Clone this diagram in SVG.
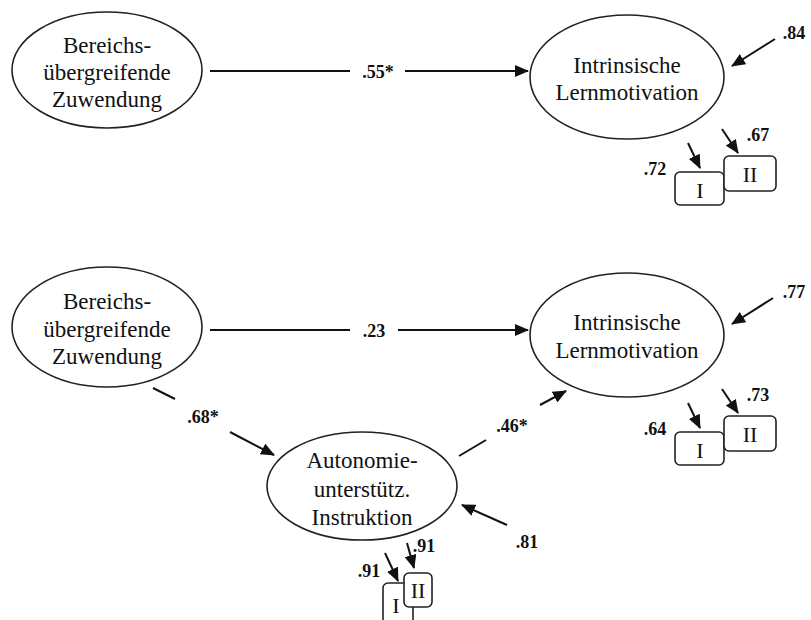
<svg xmlns="http://www.w3.org/2000/svg" width="811" height="620" viewBox="0 0 811 620">
<defs>
<marker id="ah" markerWidth="14" markerHeight="12" refX="13" refY="6" orient="auto" markerUnits="userSpaceOnUse">
<path d="M0,0 L14,6 L0,12 Z" fill="#111"/>
</marker>
<style>
.node{fill:#fff;stroke:#222;stroke-width:1.6}
.box{fill:#fff;stroke:#222;stroke-width:1.6}
.t{font-family:"Liberation Serif","Times New Roman",serif;font-size:23px;fill:#111;text-anchor:middle}
.bt{font-family:"Liberation Serif","Times New Roman",serif;font-size:22px;fill:#111;text-anchor:middle}
.lab{font-family:"Liberation Serif","Times New Roman",serif;font-size:18px;font-weight:bold;fill:#111;text-anchor:middle}
.c{stroke:#111;stroke-width:2;fill:none}
.ca{stroke:#111;stroke-width:2;fill:none;marker-end:url(#ah)}
</style>
</defs>
<rect width="811" height="620" fill="#fff"/>

<g id="connectors">
<line class="c" x1="210" y1="71" x2="350" y2="71"/>
<line class="ca" x1="405" y1="71" x2="528" y2="71"/>
<line class="ca" x1="775" y1="39" x2="732" y2="66"/>
<line class="ca" x1="688" y1="143" x2="700" y2="168"/>
<line class="ca" x1="722" y1="129" x2="738" y2="153"/>

<line class="c" x1="210" y1="330" x2="350" y2="330"/>
<line class="ca" x1="398" y1="330" x2="528" y2="330"/>
<line class="ca" x1="773" y1="298" x2="732" y2="324"/>
<line class="ca" x1="688" y1="403" x2="700" y2="428"/>
<line class="ca" x1="722" y1="389" x2="738" y2="413"/>

<line class="c" x1="153" y1="388" x2="175" y2="399"/>
<line class="ca" x1="230" y1="432" x2="274" y2="455"/>
<line class="c" x1="459" y1="456" x2="486" y2="440"/>
<line class="ca" x1="540" y1="405" x2="566" y2="391"/>
<line class="ca" x1="507" y1="525" x2="462" y2="505"/>
<line class="ca" x1="385" y1="553" x2="398" y2="581"/>
<line class="ca" x1="407" y1="543" x2="414" y2="568"/>

<text class="lab" x="378" y="78">.55*</text>
<text class="lab" x="794" y="39">.84</text>
<text class="lab" x="655" y="175">.72</text>
<text class="lab" x="758" y="141">.67</text>

<text class="lab" x="374" y="337">.23</text>
<text class="lab" x="794" y="298">.77</text>
<text class="lab" x="655" y="435">.64</text>
<text class="lab" x="758" y="401">.73</text>

<text class="lab" x="203" y="423">.68*</text>
<text class="lab" x="512" y="432">.46*</text>
<text class="lab" x="527" y="548">.81</text>
<text class="lab" x="369" y="577">.91</text>
<text class="lab" x="424" y="552">.91</text>
</g>

<g id="top-zuwendung">
<ellipse class="node" cx="107" cy="70" rx="95" ry="58"/>
<text class="t" x="107" y="53">Bereichs-</text>
<text class="t" x="107" y="80">übergreifende</text>
<text class="t" x="107" y="107">Zuwendung</text>
</g>

<g id="top-motivation">
<ellipse class="node" cx="627" cy="77" rx="97" ry="62"/>
<text class="t" x="627" y="73">Intrinsische</text>
<text class="t" x="627" y="100">Lernmotivation</text>
</g>

<g id="top-indicator-I">
<rect class="box" x="675" y="172" width="49" height="33" rx="5"/>
<text class="bt" x="700" y="198">I</text>
</g>
<g id="top-indicator-II">
<rect class="box" x="724" y="156" width="52" height="35" rx="5"/>
<text class="bt" x="750" y="182">II</text>
</g>

<g id="bottom-zuwendung">
<ellipse class="node" cx="107" cy="327" rx="95" ry="60"/>
<text class="t" x="107" y="309">Bereichs-</text>
<text class="t" x="107" y="337">übergreifende</text>
<text class="t" x="107" y="364">Zuwendung</text>
</g>

<g id="bottom-motivation">
<ellipse class="node" cx="627" cy="335" rx="97" ry="62"/>
<text class="t" x="627" y="330">Intrinsische</text>
<text class="t" x="627" y="358">Lernmotivation</text>
</g>

<g id="bottom-indicator-I">
<rect class="box" x="675" y="432" width="49" height="33" rx="5"/>
<text class="bt" x="700" y="458">I</text>
</g>
<g id="bottom-indicator-II">
<rect class="box" x="724" y="416" width="52" height="35" rx="5"/>
<text class="bt" x="750" y="442">II</text>
</g>

<g id="autonomie">
<ellipse class="node" cx="362" cy="486" rx="95" ry="54"/>
<text class="t" x="362" y="468">Autonomie-</text>
<text class="t" x="362" y="497">unterstütz.</text>
<text class="t" x="362" y="525">Instruktion</text>
</g>

<g id="autonomie-indicator-I">
<rect class="box" x="383" y="583" width="30" height="42" rx="5"/>
<text class="bt" x="396" y="613">I</text>
</g>
<g id="autonomie-indicator-II">
<rect class="box" x="404" y="573" width="28" height="34" rx="5"/>
<text class="bt" x="418" y="598">II</text>
</g>
</svg>
